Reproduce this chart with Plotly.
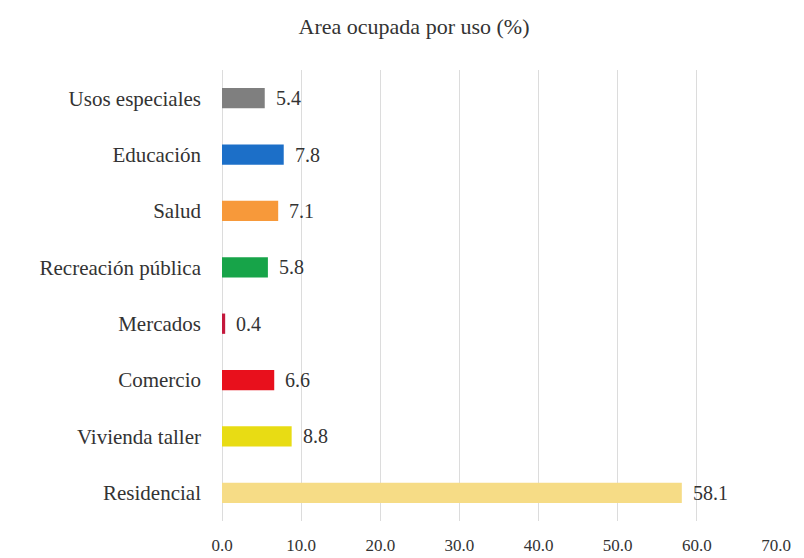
import plotly.graph_objects as go

# Share of occupied area by land use (%)
categories = ["Residencial", "Vivienda taller", "Comercio", "Mercados",
              "Recreación pública", "Salud", "Educación", "Usos especiales"]
values = [58.1, 8.8, 6.6, 0.4, 5.8, 7.1, 7.8, 5.4]
colors = ["#f6dc86", "#e8dc14", "#e8101c", "#c4183c",
          "#17a449", "#f7993a", "#1c6fc8", "#7f7f7f"]
tick_vals = [0, 10, 20, 30, 40, 50, 60, 70]
tick_text = ["0.0", "10.0", "20.0", "30.0", "40.0", "50.0", "60.0", "70.0"]

serif = "Liberation Serif, Times New Roman, serif"
ink = "#333333"

fig = go.Figure(go.Bar(
    x=values,
    y=categories,
    orientation="h",
    marker=dict(color=colors, line=dict(width=0)),
    width=0.36,
    hoverinfo="x+y",
))

# value labels just right of each bar end
for cat, v in zip(categories, values):
    fig.add_annotation(x=v, y=cat, xref="x", yref="y",
                       text=f"{v:.1f}", showarrow=False,
                       xanchor="left", yanchor="middle", xshift=9,
                       font=dict(family=serif, size=20, color=ink))

fig.update_layout(
    width=804, height=558,
    margin=dict(l=222, r=28, t=70, b=37),
    paper_bgcolor="white",
    plot_bgcolor="white",
    showlegend=False,
    title=dict(text="Area ocupada por uso (%)", x=0.515, xanchor="center",
               y=0.952, yanchor="middle",
               font=dict(family=serif, size=22, color=ink)),
    xaxis=dict(range=[0, 70], tickvals=tick_vals, ticktext=tick_text,
               showgrid=True, gridcolor="#dcdcdc", gridwidth=1,
               zeroline=True, zerolinecolor="#dcdcdc", zerolinewidth=1,
               showline=False, ticks="", ticklabelstandoff=12,
               automargin=False,
               tickfont=dict(family=serif, size=17, color=ink)),
    yaxis=dict(categoryorder="array", categoryarray=categories,
               range=[-0.5, 7.5], showgrid=False, showline=False,
               ticks="", ticklabelstandoff=20, automargin=False,
               tickfont=dict(family=serif, size=21, color=ink)),
)

fig.write_html("out.html")
